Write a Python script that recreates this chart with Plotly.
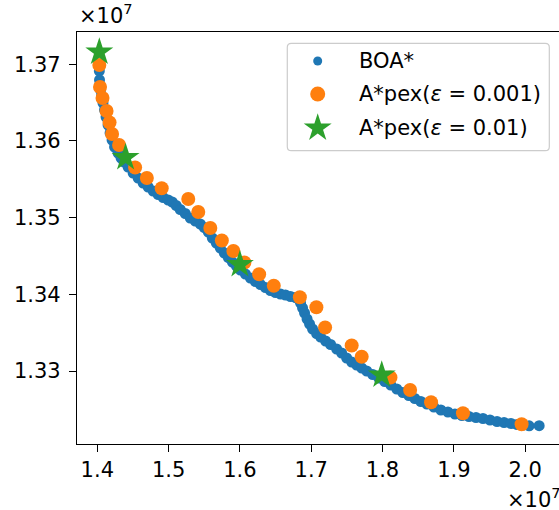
import plotly.graph_objects as go

# BOA* Pareto front (cost 1, cost 2), in units of 1e7
boa_x = [1.40281, 1.40281, 1.40309, 1.40352, 1.4045, 1.40591, 1.40801, 1.41012, 1.41223, 1.41505,
         1.41786, 1.42067, 1.42419, 1.42911, 1.43332, 1.43754, 1.44317, 1.4502, 1.45723, 1.46426,
         1.47129, 1.47832, 1.48535, 1.49238, 1.49941, 1.50504, 1.51066, 1.51629, 1.52332, 1.53035,
         1.53738, 1.54441, 1.55003, 1.55566, 1.56128, 1.5669, 1.57253, 1.57815, 1.58378, 1.5894,
         1.59503, 1.60065, 1.60768, 1.61471, 1.62174, 1.62877, 1.6358, 1.64283, 1.64986, 1.65689,
         1.66392, 1.67095, 1.67798, 1.6822, 1.68502, 1.68783, 1.69064, 1.69416, 1.69767, 1.70189,
         1.70752, 1.71314, 1.72017, 1.7272, 1.73564, 1.74267, 1.7497, 1.75673, 1.76376, 1.77079,
         1.77782, 1.78626, 1.79469, 1.80313, 1.81156, 1.82, 1.82844, 1.83687, 1.84531, 1.85374,
         1.86218, 1.87202, 1.88187, 1.89171, 1.90156, 1.9114, 1.92124, 1.93108, 1.94093, 1.95077,
         1.96061, 1.97045, 1.9803, 1.98873, 1.99717, 2.0056, 2.01967]
boa_y = [1.369648, 1.369126, 1.367952, 1.3673, 1.366648, 1.365866, 1.364953, 1.36404, 1.363127, 1.362084,
         1.36104, 1.360127, 1.359214, 1.358432, 1.35778, 1.357258, 1.356606, 1.355824, 1.355171, 1.354519,
         1.353997, 1.353476, 1.353019, 1.352628, 1.352302, 1.352041, 1.351585, 1.351063, 1.350541, 1.349955,
         1.349563, 1.349172, 1.348716, 1.348129, 1.347346, 1.346694, 1.346042, 1.34539, 1.344803, 1.344216,
         1.343695, 1.343173, 1.342651, 1.34213, 1.341673, 1.341282, 1.340891, 1.3405, 1.340239, 1.340043,
         1.339913, 1.339717, 1.339587, 1.339391, 1.338869, 1.338217, 1.337565, 1.336783, 1.33613, 1.335478,
         1.334891, 1.334435, 1.333913, 1.333457, 1.33287, 1.332348, 1.331696, 1.331174, 1.330783, 1.330392,
         1.33, 1.329544, 1.329087, 1.328631, 1.328174, 1.327652, 1.327196, 1.326805, 1.326414, 1.326022,
         1.325697, 1.325305, 1.324914, 1.324653, 1.324392, 1.324196, 1.324066, 1.323935, 1.323805, 1.323609,
         1.323413, 1.323283, 1.323153, 1.323022, 1.322957, 1.322853, 1.322866]

# A*pex with eps = 0.001
apex1_x = [1.40281, 1.4038, 1.40731, 1.41294, 1.41715, 1.42067, 1.43051, 1.45301, 1.46946, 1.49027,
           1.52753, 1.54159, 1.55847, 1.57463, 1.5908, 1.60627, 1.62694, 1.64747, 1.68403, 1.70723,
           1.71947, 1.75673, 1.77079, 1.81113, 1.8387, 1.86808, 1.9128, 1.99505]
apex1_y = [1.369909, 1.36704, 1.365605, 1.363909, 1.36241, 1.36091, 1.359475, 1.356541, 1.355171, 1.353828,
           1.352432, 1.350737, 1.34865, 1.34702, 1.34565, 1.34415, 1.342625, 1.341125, 1.339612, 1.338308,
           1.335673, 1.333325, 1.331865, 1.329152, 1.327522, 1.325918, 1.324483, 1.323049]

# A*pex with eps = 0.01
apex2_x = [1.40281, 1.43965, 1.59994, 1.7989]
apex2_y = [1.3716, 1.357845, 1.34389, 1.329478]

SCALE = 1e7
x_ticks = [1.4, 1.5, 1.6, 1.7, 1.8, 1.9, 2.0]
y_ticks = [1.33, 1.34, 1.35, 1.36, 1.37]

series_names = ["BOA*", "A*pex(<i>ε</i> = 0.001)", "A*pex(<i>ε</i> = 0.01)"]
series_colors = ["#1f77b4", "#ff7f0e", "#2ca02c"]
series_symbols = ["circle", "circle", "star"]
series_sizes = [11, 14, 21]
legend_key_sizes = [9, 15, 21]

FONT = "DejaVu Sans"

fig = go.Figure()
for (xs, ys), name, color, sym, size in zip(
        [(boa_x, boa_y), (apex1_x, apex1_y), (apex2_x, apex2_y)],
        series_names, series_colors, series_symbols, series_sizes):
    fig.add_trace(go.Scatter(
        x=[v * SCALE for v in xs], y=[v * SCALE for v in ys], mode="markers",
        name=name, showlegend=False,
        marker=dict(color=color, size=size, symbol=sym, line=dict(width=0))))

# Legend box drawn in paper coordinates of the plot area
W_PX, H_PX = 482.0, 412.0
lx0, lx1 = 0.4363, 0.9799
ly0, ly1 = 0.71189, 0.97257
rx, ry = 4 / W_PX, 4 / H_PX
box_path = (f"M {lx0 + rx},{ly1} L {lx1 - rx},{ly1} Q {lx1},{ly1} {lx1},{ly1 - ry} "
            f"L {lx1},{ly0 + ry} Q {lx1},{ly0} {lx1 - rx},{ly0} "
            f"L {lx0 + rx},{ly0} Q {lx0},{ly0} {lx0},{ly0 + ry} "
            f"L {lx0},{ly1 - ry} Q {lx0},{ly1} {lx0 + rx},{ly1} Z")

row_y = [0.92961, 0.84951, 0.76699]
key_x = 0.49938
text_x = 0.58154

# Legend keys on an overlay axis spanning the plot area
for name, color, sym, size, ry_ in zip(series_names, series_colors, series_symbols,
                                       legend_key_sizes, row_y):
    fig.add_trace(go.Scatter(
        x=[key_x], y=[ry_], xaxis="x2", yaxis="y2", mode="markers", showlegend=False,
        hoverinfo="skip", marker=dict(color=color, size=size, symbol=sym, line=dict(width=0))))

annotations = [
    dict(text=name, xref="paper", yref="paper", x=text_x, y=ry_, xanchor="left",
         yanchor="middle", showarrow=False, font=dict(family=FONT, size=21, color="black"))
    for name, ry_ in zip(series_names, row_y)
]
annotations += [
    dict(text="×10<sup>7</sup>", xref="paper", yref="paper", x=0.0, y=1.0,
         xanchor="left", yanchor="bottom", showarrow=False, yshift=2,
         font=dict(family=FONT, size=21, color="black")),
    dict(text="×10<sup>7</sup>", xref="paper", yref="paper", x=0.888, y=0.0,
         xanchor="left", yanchor="top", showarrow=False, yshift=-38,
         font=dict(family=FONT, size=21, color="black")),
]

axis_common = dict(
    showgrid=False, zeroline=False, showline=True, linecolor="black", linewidth=1.3,
    ticks="outside", ticklen=7, tickwidth=1.3, tickcolor="black",
    tickfont=dict(family=FONT, size=21, color="black"),
)

fig.update_layout(
    width=559, height=510,
    margin=dict(l=77, r=0, t=32, b=66),
    paper_bgcolor="white", plot_bgcolor="white",
    font=dict(family=FONT, color="black"),
    showlegend=False,
    xaxis=dict(range=[1.3715e7, 2.0475e7], tickvals=[t * SCALE for t in x_ticks],
               ticktext=[f"{t:.1f}" for t in x_ticks], mirror=True, **axis_common),
    yaxis=dict(range=[1.320479e7, 1.374213e7], tickvals=[t * SCALE for t in y_ticks],
               ticktext=[f"{t:.2f}" for t in y_ticks], ticklabelstandoff=4, **axis_common),
    xaxis2=dict(range=[0, 1], overlaying="x", visible=False, fixedrange=True),
    yaxis2=dict(range=[0, 1], overlaying="y", visible=False, fixedrange=True),
    shapes=[dict(type="path", path=box_path, xref="paper", yref="paper",
                 line=dict(color="#cccccc", width=1.2), fillcolor="white", layer="below")],
    annotations=annotations,
)

fig.write_html("out.html")
